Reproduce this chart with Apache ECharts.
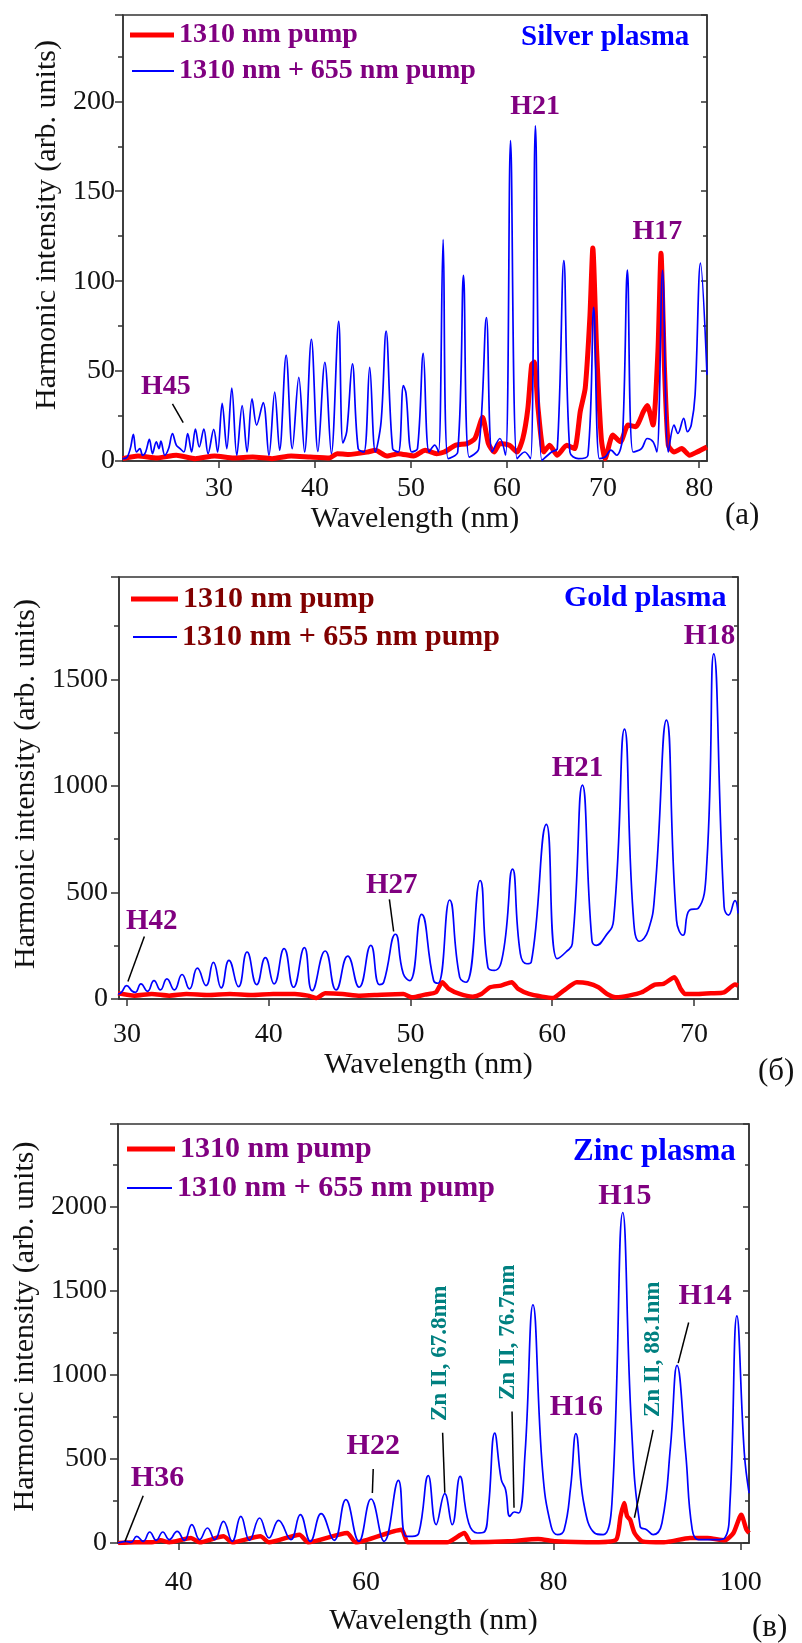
<!DOCTYPE html>
<html>
<head>
<meta charset="utf-8">
<script src="https://cdn.jsdelivr.net/npm/echarts@6/dist/echarts.min.js"></script>
<style>
  html, body { margin: 0; padding: 0; background: #ffffff; }
  #chart { width: 802px; height: 1643px; }
</style>
</head>
<body>
<div id="chart"></div>
<script>
// Harmonic spectra: single-colour (1310 nm) and two-colour (1310 nm + 655 nm) pumping
const seriesNames = ['1310 nm pump', '1310 nm + 655 nm pump'];
const plasmaNames = ['Silver plasma', 'Gold plasma', 'Zinc plasma'];
const panelLetters = ['(а)', '(б)', '(в)'];

const silverTicksX = [30, 40, 50, 60, 70, 80];
const goldTicksX = [30, 40, 50, 60, 70];
const zincTicksX = [40, 60, 80, 100];

// Silver plasma, [wavelength nm, intensity]
const silverPump1310 = [
  [19.96,1.3],[21.56,2.8],[23.55,1.7],[25.55,3.2],[27.54,1.3],[29.53,2.8],[31.53,1.7],[33.52,2.2],
  [35.52,1.3],[37.51,2.8],[39.50,2.2],[41.50,1.7],[42.30,4.1],[43.49,3.6],[45.49,5.0],[46.28,6.0],
  [47.48,2.8],[48.68,4.1],[50.27,2.8],[51.47,6.0],[52.66,4.1],[53.46,5.0],[54.66,8.8],[55.85,9.7],
  [56.65,12.5],[57.45,24.3],[58.05,9.7],[58.65,5.0],[59.25,9.7],[60.24,8.8],[61.04,5.0],[61.64,12.5],
  [62.16,29.0],[62.56,53.6],[62.83,55.0],[63.23,29.0],[63.83,5.0],[64.43,8.8],[65.23,3.2],[66.22,8.8],
  [67.02,6.9],[67.62,27.5],[68.14,40.6],[68.62,79.8],[68.93,118.5],[69.33,61.1],[69.81,12.5],[70.21,1.3],
  [71.01,14.4],[71.81,10.7],[72.60,20.0],[73.40,19.1],[74.20,27.5],[74.60,30.8],[75.20,20.0],[75.71,61.1],
  [76.03,115.5],[76.39,51.8],[76.79,8.8],[77.39,5.0],[78.19,6.9],[78.99,3.2],[79.78,5.0],[80.82,7.8]
];
const silverPumpTwoColor = [
  [19.96,1.3],[20.36,1.7],[20.76,6.9],[21.08,14.8],[21.40,5.0],[21.76,6.9],[22.04,3.2],[22.36,5.0],
  [22.75,12.0],[23.07,4.1],[23.47,10.7],[23.75,6.9],[23.95,11.0],[24.35,3.2],[24.75,6.9],[25.15,15.3],
  [25.55,8.8],[25.94,6.9],[26.34,5.0],[26.74,15.3],[27.14,5.0],[27.54,17.8],[27.94,7.8],[28.42,17.8],
  [28.86,4.1],[29.45,17.6],[29.85,5.0],[30.33,32.1],[30.81,6.9],[31.33,40.6],[31.85,3.2],[32.41,30.8],
  [32.92,5.0],[33.44,34.6],[33.92,20.0],[34.60,32.5],[35.20,3.2],[35.80,38.3],[36.31,6.0],[36.99,58.9],
  [37.63,6.9],[38.31,46.5],[38.91,5.0],[39.62,67.7],[40.30,5.4],[41.02,54.9],[41.70,4.1],[42.46,77.6],
  [42.90,10.0],[43.30,16.3],[43.89,54.0],[44.49,6.9],[45.09,5.0],[45.69,52.1],[46.28,5.0],[46.88,21.9],
  [47.40,72.3],[48.08,6.9],[48.68,5.0],[49.20,41.9],[49.47,37.8],[50.07,5.0],[50.67,6.9],[51.27,59.8],
  [51.87,5.0],[52.47,8.8],[52.86,5.0],[53.34,123.1],[53.86,1.3],[54.86,5.0],[55.46,103.2],[56.05,2.2],
  [57.05,6.9],[57.85,79.8],[58.45,5.0],[59.25,12.5],[59.84,3.2],[60.36,178.2],[61.04,1.3],[61.84,5.0],
  [62.44,1.3],[62.95,186.4],[63.63,0.4],[64.63,5.0],[65.23,6.9],[65.91,111.5],[66.54,5.0],[67.42,1.3],
  [68.42,3.2],[69.02,85.4],[69.61,1.3],[70.21,2.2],[70.81,6.0],[71.41,3.2],[72.01,12.5],[72.53,106.2],
  [73.12,5.0],[74.00,6.9],[74.60,12.5],[75.20,10.7],[75.60,5.0],[76.19,106.0],[76.79,5.0],[77.39,20.0],
  [77.79,15.3],[78.39,23.7],[78.79,16.3],[79.18,20.0],[79.58,36.8],[80.14,110.0],[80.82,48.0]
];

// Gold plasma
const goldPump1310 = [
  [29.36,26.8],[30.52,15.7],[31.74,23.6],[32.97,15.7],[34.19,23.6],[35.72,18.9],[37.25,23.6],[38.78,18.9],
  [40.31,23.6],[41.84,23.6],[42.76,15.7],[43.37,4.7],[43.98,26.8],[45.21,23.6],[46.43,15.7],[47.96,20.5],
  [49.49,23.6],[50.10,7.9],[51.02,20.5],[51.79,31.5],[52.24,78.7],[52.70,47.2],[53.47,23.6],[54.39,11.0],
  [55.00,23.6],[55.61,55.1],[56.38,63.0],[57.14,78.7],[57.60,47.2],[58.36,23.6],[59.28,11.0],[60.05,4.7],
  [60.81,39.4],[61.73,78.7],[62.50,74.0],[63.26,55.1],[63.87,23.6],[64.48,7.9],[65.40,15.7],[66.32,31.5],
  [67.24,67.7],[67.85,70.9],[68.62,102.4],[69.07,47.2],[69.38,23.6],[70.30,23.6],[71.22,26.8],[72.13,31.5],
  [72.90,67.7],[73.11,63.0]
];
const goldPumpTwoColor = [
  [29.36,23.6],[29.60,31.5],[29.97,63.0],[30.37,36.2],[30.58,31.5],[30.98,70.9],[31.44,36.2],[31.90,86.6],
  [32.35,42.5],[32.81,94.5],[33.33,42.5],[33.88,115.0],[34.40,47.2],[34.96,144.9],[35.57,63.0],[36.09,171.7],
  [36.64,52.0],[37.19,181.1],[37.86,58.3],[38.47,220.5],[39.15,67.7],[39.76,193.7],[40.37,70.9],[41.08,236.2],
  [41.75,55.1],[42.51,240.9],[43.06,39.4],[43.98,225.2],[44.75,42.5],[45.57,201.6],[46.37,55.1],[47.20,252.0],
  [47.81,67.7],[48.11,78.7],[48.94,303.9],[49.49,118.1],[49.95,86.6],[50.78,396.8],[51.63,86.6],[51.94,74.0],
  [52.76,464.6],[53.47,102.4],[53.93,78.7],[54.91,555.9],[55.46,149.6],[55.92,133.9],[56.53,212.6],[57.20,609.4],
  [57.75,212.6],[58.21,165.4],[58.52,173.2],[59.59,818.9],[60.35,189.0],[60.97,220.5],[61.42,259.8],[62.13,1003.1],
  [62.80,275.6],[63.11,252.0],[63.72,291.3],[64.33,370.1],[65.10,1266.5],[65.71,401.6],[66.17,270.9],[66.78,322.8],
  [67.24,496.1],[68.06,1308.8],[68.77,370.1],[69.23,299.2],[69.69,417.3],[70.30,425.2],[70.91,637.8],[71.40,1619.0],
  [72.13,433.1],[72.44,393.7],[72.90,461.4],[73.11,401.6]
];

// Zinc plasma
const zincPump1310 = [
  [33.53,0],[35.29,4.0],[37.14,4.0],[38.06,15.8],[38.99,4.0],[41.31,29.7],[42.23,4.0],[44.78,39.6],
  [45.71,4.0],[48.72,39.6],[49.64,4.0],[52.89,49.5],[53.81,4.0],[57.98,59.4],[58.91,4.0],[63.77,79.2],
  [64.47,4.0],[68.64,4.0],[70.49,59.4],[71.18,4.0],[75.12,9.9],[78.36,23.8],[80.22,9.9],[84.85,4.0],
  [86.70,19.8],[87.16,158.4],[87.53,237.6],[87.86,158.4],[88.18,138.6],[88.65,59.4],[89.48,9.9],[91.80,4.0],
  [94.57,29.7],[96.43,29.7],[98.28,15.8],[99.21,59.4],[100.04,168.3],[100.60,79.2],[100.88,59.4]
];
const zincPumpTwoColor = [
  [33.53,0],[34.36,9.9],[34.91,4.0],[35.52,39.6],[36.21,9.9],[36.91,65.3],[37.60,15.8],[38.30,65.3],
  [38.99,19.8],[39.83,69.3],[40.61,15.8],[41.40,108.9],[42.23,19.8],[43.07,89.1],[43.85,19.8],[44.78,128.7],
  [45.71,9.9],[46.63,158.4],[47.56,15.8],[48.63,148.5],[49.64,29.7],[50.66,134.6],[51.96,19.8],[52.98,168.3],
  [54.05,9.9],[55.20,174.2],[56.59,15.8],[57.84,257.4],[59.23,9.9],[60.53,261.4],[61.92,9.9],[63.45,372.2],
  [64.24,39.6],[64.93,39.6],[65.63,59.4],[66.64,400.0],[67.48,108.9],[68.40,293.0],[69.19,108.9],[70.03,396.0],
  [70.95,118.8],[71.88,59.4],[72.57,63.4],[73.04,198.0],[73.73,653.4],[74.43,376.2],[74.89,316.8],[75.35,158.4],
  [75.82,184.1],[76.28,178.2],[76.97,534.6],[77.81,1416.0],[78.83,435.6],[79.75,99.0],[80.45,49.5],[81.14,79.2],
  [81.84,336.6],[82.39,649.4],[83.23,237.6],[84.39,59.4],[85.31,49.5],[86.24,237.6],[87.40,1964.0],[88.32,700.0],
  [89.25,99.0],[89.94,79.2],[90.64,49.5],[91.58,118.8],[92.49,574.2],[93.19,1055.0],[94.11,534.6],[94.81,79.2],
  [95.50,19.8],[97.35,19.8],[98.28,29.7],[98.84,237.6],[99.58,1350.0],[100.37,534.6],[100.88,297.0]
];

const FONT = '"Liberation Serif", "Times New Roman", serif';
const AXIS_COLOR = '#333333';
const TEXT_COLOR = '#111111';
const PURPLE = '#800080';
const MAROON = '#800000';
const TEAL = '#008080';
const RED = '#ff0000';
const BLUE = '#0000ff';

const plainNumber = v => String(v);

function xAxisFor(gridIndex, min, max, ticks, labelMargin, nameGap) {
  return {
    type: 'value', gridIndex, min, max,
    axisLine: { show: true, onZero: false, lineStyle: { color: AXIS_COLOR, width: 1.5 } },
    axisTick: { show: true, length: 7, customValues: ticks, lineStyle: { color: AXIS_COLOR, width: 1.5 } },
    axisLabel: { customValues: ticks, formatter: plainNumber, margin: labelMargin, fontFamily: FONT, fontSize: 28, color: TEXT_COLOR },
    splitLine: { show: false },
    name: 'Wavelength (nm)', nameLocation: 'middle', nameGap,
    nameTextStyle: { fontFamily: FONT, fontSize: 30, color: TEXT_COLOR }
  };
}

function yAxisLeft(gridIndex, max, interval, labelMargin, nameGap, shiftUp) {
  return {
    type: 'value', gridIndex, min: 0, max, interval, position: 'left',
    axisLine: { show: true, onZero: false, lineStyle: { color: AXIS_COLOR, width: 1.5 } },
    axisTick: { show: true, length: 8, lineStyle: { color: AXIS_COLOR, width: 1.5 } },
    minorTick: { show: true, splitNumber: 2, length: 5, lineStyle: { color: AXIS_COLOR, width: 1.5 } },
    axisLabel: { margin: labelMargin, showMaxLabel: false, formatter: plainNumber, fontFamily: FONT, fontSize: 28, color: TEXT_COLOR },
    splitLine: { show: false },
    name: 'Harmonic intensity (arb. units)', nameLocation: 'middle', nameGap, nameRotate: 90,
    nameTextStyle: { fontFamily: FONT, fontSize: 30, color: TEXT_COLOR, padding: [0, 0, 0, shiftUp * 2] }
  };
}

function yAxisRight(gridIndex, max, interval) {
  return {
    type: 'value', gridIndex, min: 0, max, interval, position: 'right',
    axisLine: { show: true, onZero: false, lineStyle: { color: AXIS_COLOR, width: 1.5 } },
    axisTick: { show: true, inside: true, length: 6, lineStyle: { color: AXIS_COLOR, width: 1.5 } },
    minorTick: { show: true, splitNumber: 2, length: 4, lineStyle: { color: AXIS_COLOR, width: 1.5 } },
    axisLabel: { show: false },
    splitLine: { show: false }
  };
}

function harmonicLabels(items, fontSize) {
  return {
    silent: true, symbol: 'circle', symbolSize: 1,
    itemStyle: { color: 'rgba(0,0,0,0)' },
    label: { show: true, position: 'inside', formatter: '{b}', fontFamily: FONT, fontWeight: 'bold', fontSize, color: PURPLE },
    data: items
  };
}

function arrows(pairs) {
  return {
    silent: true, symbol: ['none', 'arrow'], symbolSize: [0, 9],
    lineStyle: { color: '#000000', width: 1.5, type: 'solid' },
    label: { show: false },
    emphasis: { disabled: true },
    data: pairs.map(p => [{ coord: p[0] }, { coord: p[1] }])
  };
}

function pumpSeries(idx, data, width) {
  return {
    name: seriesNames[0], type: 'line', xAxisIndex: idx, yAxisIndex: idx, data,
    symbol: 'none', smooth: 0.2, lineStyle: { color: RED, width }, itemStyle: { color: RED }, z: 2
  };
}
function twoColorSeries(idx, data, smooth, extra) {
  return Object.assign({
    name: seriesNames[1], type: 'line', xAxisIndex: idx, yAxisIndex: idx, data,
    symbol: 'none', smooth, lineStyle: { color: BLUE, width: 1.7 }, itemStyle: { color: BLUE }, z: 3
  }, extra);
}

// one legend entry per component so each swatch keeps its own line thickness
function legendEntry(name, left, top, swatchWidth, swatchHeight, size, color) {
  return {
    left, top, padding: 0, selectedMode: false,
    icon: 'rect', itemWidth: swatchWidth, itemHeight: swatchHeight,
    data: [name],
    textStyle: { fontFamily: FONT, fontWeight: 'bold', fontSize: size, color }
  };
}

function textAt(x, y, text, font, fill, align) {
  return { type: 'text', x, y, silent: true,
    style: { text, font, fill, textAlign: align || 'left', textVerticalAlign: 'middle', verticalAlign: 'middle' } };
}

const gridBase = { show: true, borderColor: AXIS_COLOR, borderWidth: 1.5, containLabel: false, outerBoundsMode: 'none' };

const option = {
  animation: false,
  backgroundColor: '#ffffff',
  grid: [
    Object.assign({ left: 123, right: 95, top: 15, height: 446 }, gridBase),
    Object.assign({ left: 119, right: 64, top: 577, height: 422 }, gridBase),
    Object.assign({ left: 118, right: 53, top: 1124, height: 419 }, gridBase)
  ],
  xAxis: [
    xAxisFor(0, 20, 80.82, silverTicksX, 14, 42),
    xAxisFor(1, 29.43, 73.11, goldTicksX, 22, 47),
    xAxisFor(2, 33.52, 100.87, zincTicksX, 26, 63)
  ],
  yAxis: [
    yAxisLeft(0, 248, 50, 8, 59, 13),
    yAxisLeft(1, 1980, 500, 11, 60, 4),
    yAxisLeft(2, 2490, 500, 11, 61, 7),
    yAxisRight(0, 248, 50),
    yAxisRight(1, 1980, 500),
    yAxisRight(2, 2490, 500)
  ],
  legend: [
    legendEntry(seriesNames[0], 130, 21, 44, 5, 28, PURPLE),
    legendEntry(seriesNames[1], 132, 57, 42, 2, 28, PURPLE),
    legendEntry(seriesNames[0], 131, 584, 47, 5, 30, MAROON),
    legendEntry(seriesNames[1], 133, 622, 44, 2, 30, MAROON),
    legendEntry(seriesNames[0], 127, 1134, 48, 5, 30, PURPLE),
    legendEntry(seriesNames[1], 127, 1173, 45, 2, 30, PURPLE)
  ],
  series: [
    pumpSeries(0, silverPump1310, 5),
    twoColorSeries(0, silverPumpTwoColor, 0.35, {
      markPoint: harmonicLabels([
        { name: 'H21', coord: [62.91, 196.8] },
        { name: 'H17', coord: [75.65, 127.4] },
        { name: 'H45', coord: [24.46, 41.3] }
      ], 28),
      markLine: arrows([[[25.15, 31.7], [26.27, 21.3]]])
    }),
    pumpSeries(1, goldPump1310, 4.5),
    twoColorSeries(1, goldPumpTwoColor, 0.5, {
      markPoint: harmonicLabels([
        { name: 'H18', coord: [71.1, 1699] },
        { name: 'H21', coord: [61.79, 1082.5] },
        { name: 'H27', coord: [48.68, 531] },
        { name: 'H42', coord: [31.74, 363.6] }
      ], 29),
      markLine: arrows([
        [[48.51, 467], [48.81, 316.8]],
        [[31.22, 293.3], [30.06, 82.5]]
      ])
    }),
    pumpSeries(2, zincPump1310, 4.5),
    twoColorSeries(2, zincPumpTwoColor, 0.45, {
      markPoint: {
        silent: true, symbol: 'circle', symbolSize: 1,
        itemStyle: { color: 'rgba(0,0,0,0)' },
        label: { show: true, position: 'inside', formatter: '{b}', fontFamily: FONT, fontWeight: 'bold', fontSize: 30, color: PURPLE },
        data: [
          { name: 'H15', coord: [87.63, 2062] },
          { name: 'H16', coord: [82.44, 807.6] },
          { name: 'H14', coord: [96.19, 1464] },
          { name: 'H22', coord: [60.76, 573.6] },
          { name: 'H36', coord: [37.74, 386] },
          { name: 'Zn II, 67.8nm', coord: [67.94, 1127.7], label: { rotate: 90, fontSize: 23, color: TEAL } },
          { name: 'Zn II, 76.7nm', coord: [75.12, 1251.8], label: { rotate: 90, fontSize: 23, color: TEAL } },
          { name: 'Zn II, 88.1nm', coord: [90.64, 1151.5], label: { rotate: 90, fontSize: 23, color: TEAL } }
        ]
      },
      markLine: arrows([
        [[94.43, 1310], [93.31, 1069]],
        [[60.76, 439.4], [60.67, 296.9]],
        [[36.21, 280.9], [34.27, 9.5]],
        [[68.17, 655], [68.4, 298.7]],
        [[75.58, 781.5], [75.79, 209.6]],
        [[90.64, 672.8], [88.64, 150.2]]
      ])
    })
  ],
  graphic: [
    textAt(521, 38, plasmaNames[0], 'bold 29px ' + FONT, BLUE),
    textAt(564, 598, plasmaNames[1], 'bold 30px ' + FONT, BLUE),
    textAt(573, 1152, plasmaNames[2], 'bold 31px ' + FONT, BLUE),
    textAt(725, 516, panelLetters[0], '31px ' + FONT, TEXT_COLOR),
    textAt(758, 1072, panelLetters[1], '31px ' + FONT, TEXT_COLOR),
    textAt(752, 1628, panelLetters[2], '31px ' + FONT, TEXT_COLOR)
  ]
};

const chart = echarts.init(document.getElementById('chart'), null, { renderer: 'canvas', width: 802, height: 1643 });
chart.setOption(option);
</script>
</body>
</html>
